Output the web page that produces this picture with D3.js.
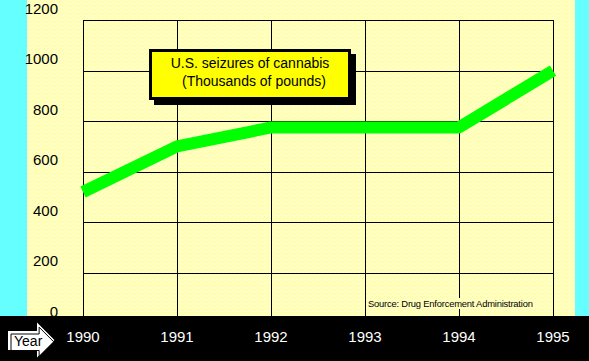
<!DOCTYPE html>
<html><head><meta charset="utf-8">
<script src="https://cdn.jsdelivr.net/npm/d3@7"></script>
<style>html,body{margin:0;padding:0;background:#000;}svg{display:block;}</style>
</head><body>
<svg id="c" width="589" height="361"></svg>
<script>
const years = [1990, 1991, 1992, 1993, 1994, 1995];
const seizures = [520, 700, 775, 775, 775, 1000];
const yTicks = [0, 200, 400, 600, 800, 1000, 1200];
const titleLines = ["U.S. seizures of cannabis", "(Thousands of pounds)"];
const sourceText = "Source: Drug Enforcement Administration";
const xLabel = "Year";

const W = 589, H = 361;
const svg = d3.select("#c");
const font = "Liberation Sans, Arial, sans-serif";

const x = d3.scaleLinear().domain([1990, 1995]).range([83, 553]);
const y = d3.scaleLinear().domain([0, 1200]).range([323.5, 20]);
const barTop = 316;

// backgrounds
const defs = svg.append("defs");
const pat = defs.append("pattern").attr("id", "dith").attr("width", 4).attr("height", 4)
  .attr("patternUnits", "userSpaceOnUse");
pat.append("rect").attr("width", 4).attr("height", 4).attr("fill", "#FFFFC4");
pat.append("rect").attr("x", 0).attr("y", 0).attr("width", 1).attr("height", 1).attr("fill", "#FFFF8C");
pat.append("rect").attr("x", 2).attr("y", 2).attr("width", 1).attr("height", 1).attr("fill", "#FFFF8C");
pat.append("rect").attr("x", 3).attr("y", 1).attr("width", 1).attr("height", 1).attr("fill", "#FFF8B0");

svg.append("rect").attr("x", 0).attr("y", 0).attr("width", W).attr("height", H).attr("fill", "#66FFFF");
svg.append("rect").attr("x", 27).attr("y", 0).attr("width", 548).attr("height", barTop).attr("fill", "url(#dith)");

// grid
const grid = svg.append("g").attr("stroke", "#000").attr("stroke-width", 1.2).attr("shape-rendering", "crispEdges");
grid.selectAll("line.v").data(years).join("line")
  .attr("x1", d => Math.round(x(d)) + 0.5).attr("x2", d => Math.round(x(d)) + 0.5)
  .attr("y1", y(1200)).attr("y2", barTop);
grid.selectAll("line.h").data(yTicks.filter(d => d > 0)).join("line")
  .attr("x1", x(1990)).attr("x2", x(1995) + 1)
  .attr("y1", d => Math.round(y(d)) + 0.5).attr("y2", d => Math.round(y(d)) + 0.5);

// y labels
svg.append("g").selectAll("text").data(yTicks).join("text")
  .attr("x", 58).attr("y", d => y(d) - 6.5)
  .attr("text-anchor", "end").attr("font-family", font).attr("font-size", 15).attr("fill", "#000")
  .text(d => d);

// source text
const src = svg.append("g");
const srcT = src.append("text").attr("x", 368).attr("y", 307)
  .attr("font-family", font).attr("font-size", 9.4).attr("fill", "#000").attr("letter-spacing", -0.2)
  .text(sourceText);
const bb = srcT.node().getBBox();
src.insert("rect", "text").attr("x", bb.x - 1).attr("y", bb.y).attr("width", bb.width + 2).attr("height", bb.height)
  .attr("fill", "url(#dith)");

// line
const line = d3.line().x((d, i) => x(years[i])).y(d => y(d));
svg.append("path").datum(seizures).attr("d", line)
  .attr("fill", "none").attr("stroke", "#00FF00").attr("stroke-width", 12)
  .attr("stroke-linejoin", "round").attr("stroke-linecap", "butt");

// title box
const bx = 149, by = 49, bw = 202, bh = 51;
svg.append("rect").attr("x", bx + 5).attr("y", by + 5).attr("width", bw).attr("height", bh).attr("fill", "#000");
svg.append("rect").attr("x", bx + 1.5).attr("y", by + 1.5).attr("width", bw - 3).attr("height", bh - 3)
  .attr("fill", "#FFFF00").attr("stroke", "#000").attr("stroke-width", 3);
svg.append("g").selectAll("text").data(titleLines).join("text")
  .attr("x", (d, i) => bx + bw / 2 + (i ? 4 : 0)).attr("y", (d, i) => 68 + i * 18)
  .attr("text-anchor", "middle").attr("font-family", font).attr("font-size", 14).attr("fill", "#000")
  .text(d => d);

// bottom bar
svg.append("rect").attr("x", 0).attr("y", barTop).attr("width", W).attr("height", H - barTop).attr("fill", "#000");
svg.append("g").selectAll("text").data(years).join("text")
  .attr("x", d => x(d)).attr("y", 342)
  .attr("text-anchor", "middle").attr("font-family", font).attr("font-size", 15).attr("fill", "#fff")
  .text(d => d);

// Year arrow
const arrowPts = [[9, 332], [38, 332], [38, 325], [53, 340], [38, 355], [38, 349], [9, 349]];
const arrowPath = "M" + arrowPts.map(p => p.join(",")).join("L") + "Z";
svg.append("path").attr("d", arrowPath).attr("fill", "#fff").attr("stroke", "#fff").attr("stroke-width", 2);
svg.append("path").attr("d", arrowPath).attr("fill", "#fff").attr("stroke", "#000").attr("stroke-width", 1)
  .attr("transform", "translate(2,2) scale(0.97)").attr("transform-origin", "9 332");
svg.append("text").attr("x", 14).attr("y", 346).attr("font-family", font).attr("font-size", 14).attr("fill", "#000")
  .text(xLabel);
</script>
</body></html>
